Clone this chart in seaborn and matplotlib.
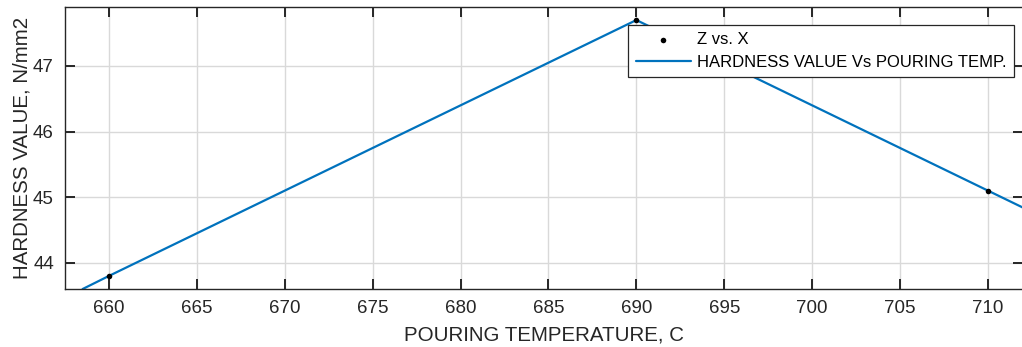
import matplotlib
matplotlib.use("Agg")
import matplotlib.pyplot as plt
import seaborn as sns
import pandas as pd

# measured points
temp = [660, 690, 710]
hardness = [43.8, 47.7, 45.1]

# fitted curve (runs past the axes edges)
fit_temp = [658.5, 660, 690, 710, 712]
fit_hardness = [43.6, 43.8, 47.7, 45.1, 44.84]

x_ticks = [660, 665, 670, 675, 680, 685, 690, 695, 700, 705, 710]
y_ticks = [44, 45, 46, 47]

sns.set_style("white")
plt.rcParams['font.family'] = ['Liberation Sans', 'DejaVu Sans']
txt = '#262626'

fig = plt.figure(figsize=(10.22, 3.47), dpi=100)
ax = fig.add_axes([0.0636, 0.167, 0.9375, 0.813])

pts = pd.DataFrame({'x': temp, 'y': hardness})
fit = pd.DataFrame({'x': fit_temp, 'y': fit_hardness})

sns.scatterplot(data=pts, x='x', y='y', ax=ax, color='black', s=16,
                edgecolor='black', linewidth=0, label='Z vs. X', zorder=3)
sns.lineplot(data=fit, x='x', y='y', ax=ax, color='#0072BD', linewidth=1.6,
             label='HARDNESS VALUE Vs POURING TEMP.', sort=False, zorder=2)

ax.set_xlim(657.5, 712)
ax.set_ylim(43.6, 47.9)
ax.set_xticks(x_ticks)
ax.set_yticks(y_ticks)
ax.grid(True, color='#d9d9d9', linewidth=1.0)
ax.set_axisbelow(True)

ax.tick_params(direction='in', length=7, width=1.4, colors=txt, labelsize=13.5,
               top=True, right=True, bottom=True, left=True, pad=8)
for s in ax.spines.values():
    s.set_color(txt)
    s.set_linewidth(1.0)

ax.set_xlabel('POURING TEMPERATURE, C', fontsize=14.8, color=txt, labelpad=6)
ax.set_ylabel('HARDNESS VALUE, N/mm2', fontsize=14.8, color=txt, labelpad=1)

leg = ax.legend(loc='upper right', bbox_to_anchor=(0.99, 0.936), borderaxespad=0,
                fontsize=12, frameon=True, fancybox=False, edgecolor=txt,
                framealpha=1, handlelength=3.3, handletextpad=0.35,
                borderpad=0.45, labelspacing=0.45)
leg.get_frame().set_linewidth(0.9)
for t in leg.get_texts():
    t.set_color('black')

fig.savefig('out.png', dpi=100)
